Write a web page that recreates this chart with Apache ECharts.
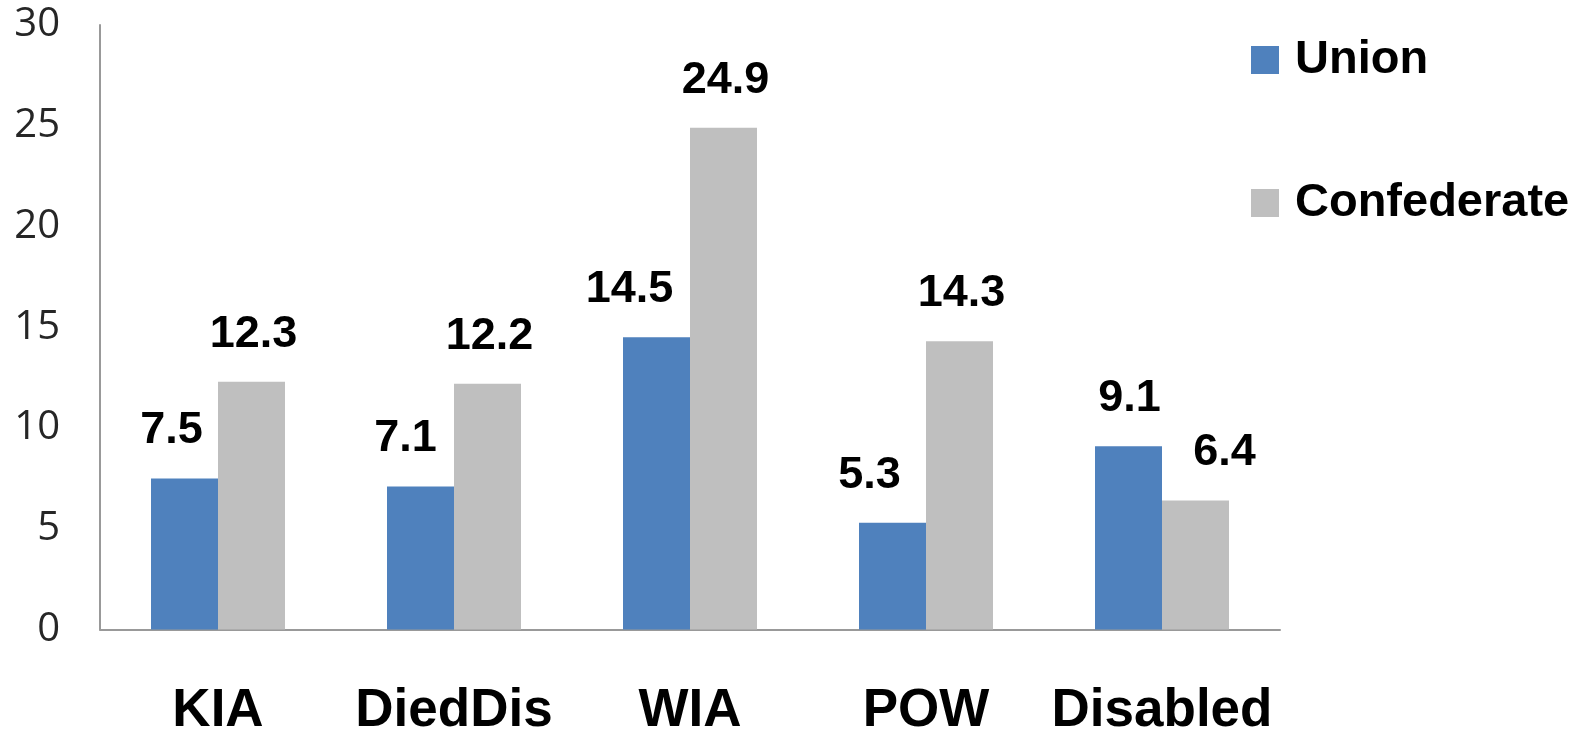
<!DOCTYPE html>
<html>
<head>
<meta charset="utf-8">
<script src="https://cdn.jsdelivr.net/npm/echarts@6/dist/echarts.min.js"></script>
<style>
html,body{margin:0;padding:0;background:#fff;}
#chart{width:1580px;height:738px;}
</style>
</head>
<body>
<div id="chart"></div>
<script>
const categories = ['KIA', 'DiedDis', 'WIA', 'POW', 'Disabled'];
const unionValues = [7.5, 7.1, 14.5, 5.3, 9.1];
const confederateValues = [12.3, 12.2, 24.9, 14.3, 6.4];
const seriesNames = ['Union', 'Confederate'];

// label horizontal shifts (style only)
const unionLabelShift = [-13, -15, -27, -23, 1];
const confederateLabelShift = [2, 2, 2, 2, 29];

function withLabels(values, shifts) {
  return values.map((v, i) => ({ value: v, label: { offset: [shifts[i], 0] } }));
}

const labelStyle = {
  show: true,
  position: 'top',
  distance: 25,
  fontFamily: 'Liberation Sans',
  fontWeight: 'bold',
  fontSize: 45,
  lineHeight: 45,
  color: '#000'
};

const chart = echarts.init(document.getElementById('chart'));
chart.setOption({
  animation: false,
  grid: { left: 100, right: 300, top: 25, bottom: 108 },
  legend: {
    orient: 'vertical',
    left: 1246,
    top: 31,
    itemWidth: 28,
    itemHeight: 28,
    itemGap: 95,
    icon: 'rect',
    data: seriesNames,
    textStyle: {
      fontFamily: 'Liberation Sans',
      fontWeight: 'bold',
      fontSize: 47,
      lineHeight: 48,
      color: '#000',
      padding: [0, 0, 0, 11]
    }
  },
  xAxis: {
    type: 'category',
    data: categories,
    axisLine: { lineStyle: { color: '#999', width: 2 } },
    axisTick: { show: false },
    axisLabel: {
      interval: 0,
      hideOverlap: false,
      fontFamily: 'Liberation Sans',
      fontWeight: 'bold',
      fontSize: 53,
      lineHeight: 53,
      verticalAlign: 'middle',
      margin: 82,
      color: '#000'
    }
  },
  yAxis: {
    type: 'value',
    min: 0,
    max: 30,
    interval: 5,
    axisLine: { show: true, lineStyle: { color: '#999', width: 2 } },
    axisTick: { show: false },
    splitLine: { show: false },
    axisLabel: {
      fontFamily: 'Open Sans',
      fontSize: 40,
      margin: 40,
      color: '#262626'
    }
  },
  series: [
    {
      name: seriesNames[0],
      type: 'bar',
      barWidth: 67,
      barGap: '0%',
      itemStyle: { color: '#4F81BD' },
      label: labelStyle,
      data: withLabels(unionValues, unionLabelShift)
    },
    {
      name: seriesNames[1],
      type: 'bar',
      barWidth: 67,
      barGap: '0%',
      itemStyle: { color: '#BFBFBF' },
      label: labelStyle,
      data: withLabels(confederateValues, confederateLabelShift)
    }
  ]
});
</script>
</body>
</html>
